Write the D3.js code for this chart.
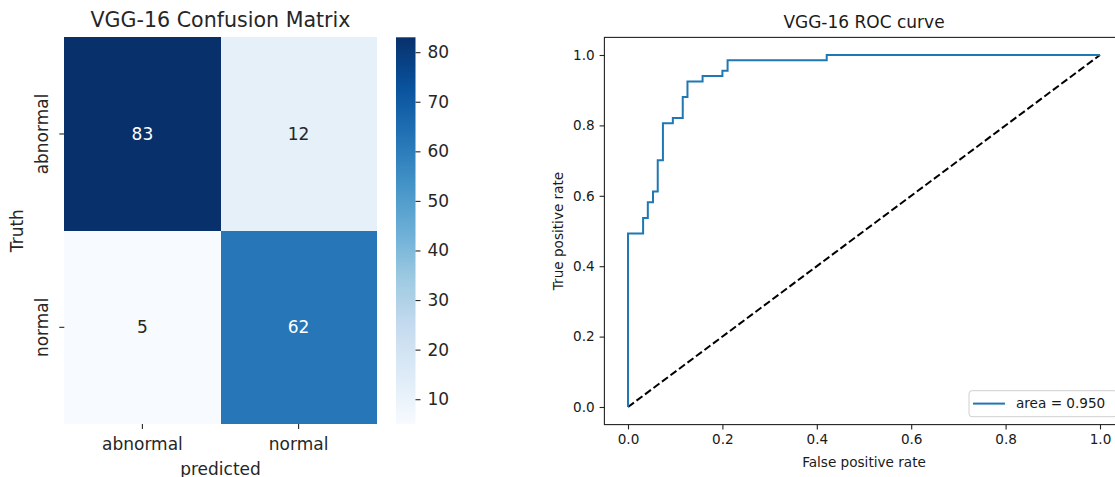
<!DOCTYPE html>
<html>
<head>
<meta charset="utf-8">
<script src="https://cdn.jsdelivr.net/npm/d3@7"></script>
<style>
  html, body { margin: 0; padding: 0; background: #fff; }
  svg { display: block; font-family: "DejaVu Sans", sans-serif; }
</style>
</head>
<body>
<svg id="chart" width="1115" height="477"></svg>
<script>
// ---------------- DATA ----------------
const cmTitle = "VGG-16 Confusion Matrix";
const truthLabels = ["abnormal", "normal"];
const predLabels = ["abnormal", "normal"];
const cmRowAbnormal = [83, 12];
const cmRowNormal = [5, 62];
const colorbarTicks = [10, 20, 30, 40, 50, 60, 70, 80];

const rocTitle = "VGG-16 ROC curve";
const fpr = [0, 0, 0.032, 0.032, 0.042, 0.042, 0.053, 0.053, 0.063, 0.063, 0.074, 0.074,
             0.095, 0.095, 0.116, 0.116, 0.126, 0.126, 0.158, 0.158, 0.200, 0.200,
             0.211, 0.211, 0.421, 0.421, 1.0];
const tpr = [0, 0.493, 0.493, 0.537, 0.537, 0.582, 0.582, 0.612, 0.612, 0.701, 0.701, 0.806,
             0.806, 0.821, 0.821, 0.881, 0.881, 0.925, 0.925, 0.940, 0.940, 0.955,
             0.955, 0.985, 0.985, 1.0, 1.0];
const chanceX = [0, 1];
const chanceY = [0, 1];
const rocTicks = [0, 0.2, 0.4, 0.6, 0.8, 1.0];
const legendLabel = "area = 0.950";

// ---------------- SETUP ----------------
const svg = d3.select("#chart");
const blues = ["#f7fbff","#deebf7","#c6dbef","#9ecae1","#6baed6","#4292c6","#2171b5","#08519c","#08306b"];
const cmRows = [cmRowAbnormal, cmRowNormal];
const allVals = cmRows.flat();
const vmin = d3.min(allVals), vmax = d3.max(allVals);
const color = d3.scaleLinear()
  .domain(blues.map((_, i) => vmin + (vmax - vmin) * i / (blues.length - 1)))
  .range(blues)
  .interpolate(d3.interpolateRgb)
  .clamp(true);

const leftText = "#262626";

// ---------------- HEATMAP ----------------
const hm = { x0: 64.3, x1: 376.7, y0: 37.3, y1: 424 };
const xb = d3.scaleBand().domain(predLabels).range([hm.x0, hm.x1]);
const yb = d3.scaleBand().domain(truthLabels).range([hm.y0, hm.y1]);

const cells = [];
truthLabels.forEach((t, i) => predLabels.forEach((p, j) => cells.push({ t, p, v: cmRows[i][j] })));

const gHm = svg.append("g");
gHm.selectAll("rect.cell").data(cells).join("rect")
  .attr("class", "cell")
  .attr("x", d => xb(d.p)).attr("y", d => yb(d.t))
  .attr("width", xb.bandwidth()).attr("height", yb.bandwidth())
  .attr("fill", d => color(d.v))
  .attr("shape-rendering", "crispEdges");

gHm.selectAll("text.annot").data(cells).join("text")
  .attr("class", "annot")
  .attr("x", d => xb(d.p) + xb.bandwidth() / 2)
  .attr("y", d => yb(d.t) + yb.bandwidth() / 2)
  .attr("dy", "0.36em")
  .attr("text-anchor", "middle")
  .attr("font-size", 17)
  .attr("fill", d => {
    const c = d3.rgb(color(d.v));
    const lum = 0.2126 * c.r + 0.7152 * c.g + 0.0722 * c.b;
    return lum > 130 ? leftText : "#ffffff";
  })
  .text(d => d.v);

// x axis (predicted)
const xAxisHm = d3.axisBottom(xb).tickSize(5).tickPadding(9).tickSizeOuter(0);
const gxh = gHm.append("g").attr("transform", `translate(0,${hm.y1})`).call(xAxisHm);
gxh.select(".domain").remove();
gxh.selectAll("line").attr("stroke", leftText).attr("stroke-width", 1.1);
gxh.selectAll("text").attr("font-size", 17).attr("fill", leftText).attr("font-family", "DejaVu Sans");

// y axis (truth), rotated labels
const yAxisHm = d3.axisLeft(yb).tickSize(5).tickSizeOuter(0).tickFormat("");
const gyh = gHm.append("g").attr("transform", `translate(${hm.x0},0)`).call(yAxisHm);
gyh.select(".domain").remove();
gyh.selectAll("line").attr("stroke", leftText).attr("stroke-width", 1.1);
gHm.selectAll("text.ylab").data(truthLabels).join("text")
  .attr("class", "ylab")
  .attr("transform", d => `translate(41.7,${yb(d) + yb.bandwidth() / 2}) rotate(-90)`)
  .attr("dy", "0.36em")
  .attr("text-anchor", "middle")
  .attr("font-size", 17).attr("fill", leftText)
  .text(d => d);

gHm.append("text")
  .attr("x", (hm.x0 + hm.x1) / 2).attr("y", 474.5)
  .attr("text-anchor", "middle").attr("font-size", 17).attr("fill", leftText)
  .text("predicted");
gHm.append("text")
  .attr("transform", `translate(17.3,${(hm.y0 + hm.y1) / 2}) rotate(-90)`)
  .attr("dy", "0.36em")
  .attr("text-anchor", "middle").attr("font-size", 17).attr("fill", leftText)
  .text("Truth");
gHm.append("text")
  .attr("x", (hm.x0 + hm.x1) / 2).attr("y", 27.3)
  .attr("text-anchor", "middle").attr("font-size", 20.6).attr("fill", leftText)
  .text(cmTitle);

// ---------------- COLORBAR ----------------
const cb = { x0: 396, x1: 415.5, y0: 37.3, y1: 424 };
const cbScale = d3.scaleLinear().domain([vmin, vmax]).range([cb.y1, cb.y0]);
const defs = svg.append("defs");
const grad = defs.append("linearGradient").attr("id", "cbgrad")
  .attr("x1", 0).attr("y1", 1).attr("x2", 0).attr("y2", 0);
d3.range(0, 1.0001, 0.02).forEach(t => {
  grad.append("stop").attr("offset", t).attr("stop-color", color(vmin + t * (vmax - vmin)));
});
svg.append("rect")
  .attr("x", cb.x0).attr("y", cb.y0)
  .attr("width", cb.x1 - cb.x0).attr("height", cb.y1 - cb.y0)
  .attr("fill", "url(#cbgrad)");
const cbAxis = d3.axisRight(cbScale).tickValues(colorbarTicks).tickSize(5).tickPadding(7).tickSizeOuter(0);
const gcb = svg.append("g").attr("transform", `translate(${cb.x1},0)`).call(cbAxis);
gcb.select(".domain").remove();
gcb.selectAll("line").attr("stroke", leftText).attr("stroke-width", 1.1);
gcb.selectAll("text").attr("font-size", 17).attr("fill", leftText).attr("font-family", "DejaVu Sans");

// ---------------- ROC ----------------
const rx = d3.scaleLinear().domain([-0.05, 1.05]).range([604.4, 1123.6]);
const ry = d3.scaleLinear().domain([-0.05, 1.05]).range([424.6, 37.4]);
const gR = svg.append("g");
const rocText = "#1a1a1a";

// chance line
gR.append("path")
  .datum(chanceX.map((x, i) => [x, chanceY[i]]))
  .attr("d", d3.line().x(d => rx(d[0])).y(d => ry(d[1])))
  .attr("fill", "none").attr("stroke", "#000").attr("stroke-width", 2)
  .attr("stroke-dasharray", "7.4,3.2");

// roc curve
gR.append("path")
  .datum(fpr.map((x, i) => [x, tpr[i]]))
  .attr("d", d3.line().x(d => rx(d[0])).y(d => ry(d[1])))
  .attr("fill", "none").attr("stroke", "#1f77b4").attr("stroke-width", 2)
  .attr("stroke-linejoin", "miter");

// frame
gR.append("rect")
  .attr("x", rx(-0.05)).attr("y", ry(1.05))
  .attr("width", rx(1.05) - rx(-0.05)).attr("height", ry(-0.05) - ry(1.05))
  .attr("fill", "none").attr("stroke", "#222").attr("stroke-width", 1.1);

const gxr = gR.append("g").attr("transform", `translate(0,${ry(-0.05)})`)
  .call(d3.axisBottom(rx).tickValues(rocTicks).tickFormat(d3.format(".1f")).tickSize(4.8).tickPadding(4.5).tickSizeOuter(0));
gxr.select(".domain").remove();
gxr.selectAll("line").attr("stroke", "#222").attr("stroke-width", 1.1);
gxr.selectAll("text").attr("font-size", 13.6).attr("fill", rocText).attr("font-family", "DejaVu Sans");

const gyr = gR.append("g").attr("transform", `translate(${rx(-0.05)},0)`)
  .call(d3.axisLeft(ry).tickValues(rocTicks).tickFormat(d3.format(".1f")).tickSize(4.8).tickPadding(5).tickSizeOuter(0));
gyr.select(".domain").remove();
gyr.selectAll("line").attr("stroke", "#222").attr("stroke-width", 1.1);
gyr.selectAll("text").attr("font-size", 13.6).attr("fill", rocText).attr("font-family", "DejaVu Sans");

gR.append("text")
  .attr("x", 864).attr("y", 466.5)
  .attr("text-anchor", "middle").attr("font-size", 13.6).attr("fill", rocText)
  .text("False positive rate");
gR.append("text")
  .attr("transform", `translate(558.3,${(ry(1.05) + ry(-0.05)) / 2}) rotate(-90)`)
  .attr("dy", "0.36em")
  .attr("text-anchor", "middle").attr("font-size", 13.6).attr("fill", rocText)
  .text("True positive rate");
gR.append("text")
  .attr("x", 864).attr("y", 27.5)
  .attr("text-anchor", "middle").attr("font-size", 17).attr("fill", rocText)
  .text(rocTitle);

// legend
const lg = gR.append("g");
lg.append("rect")
  .attr("x", 969).attr("y", 390.7).attr("width", 148).attr("height", 26).attr("rx", 3)
  .attr("fill", "#fff").attr("fill-opacity", 0.8).attr("stroke", "#d0d0d0").attr("stroke-width", 1);
lg.append("line")
  .attr("x1", 973).attr("x2", 1005).attr("y1", 403.6).attr("y2", 403.6)
  .attr("stroke", "#1f77b4").attr("stroke-width", 2);
lg.append("text")
  .attr("x", 1016).attr("y", 403.6).attr("dy", "0.36em")
  .attr("font-size", 13.6).attr("fill", rocText)
  .text(legendLabel);
</script>
</body>
</html>
